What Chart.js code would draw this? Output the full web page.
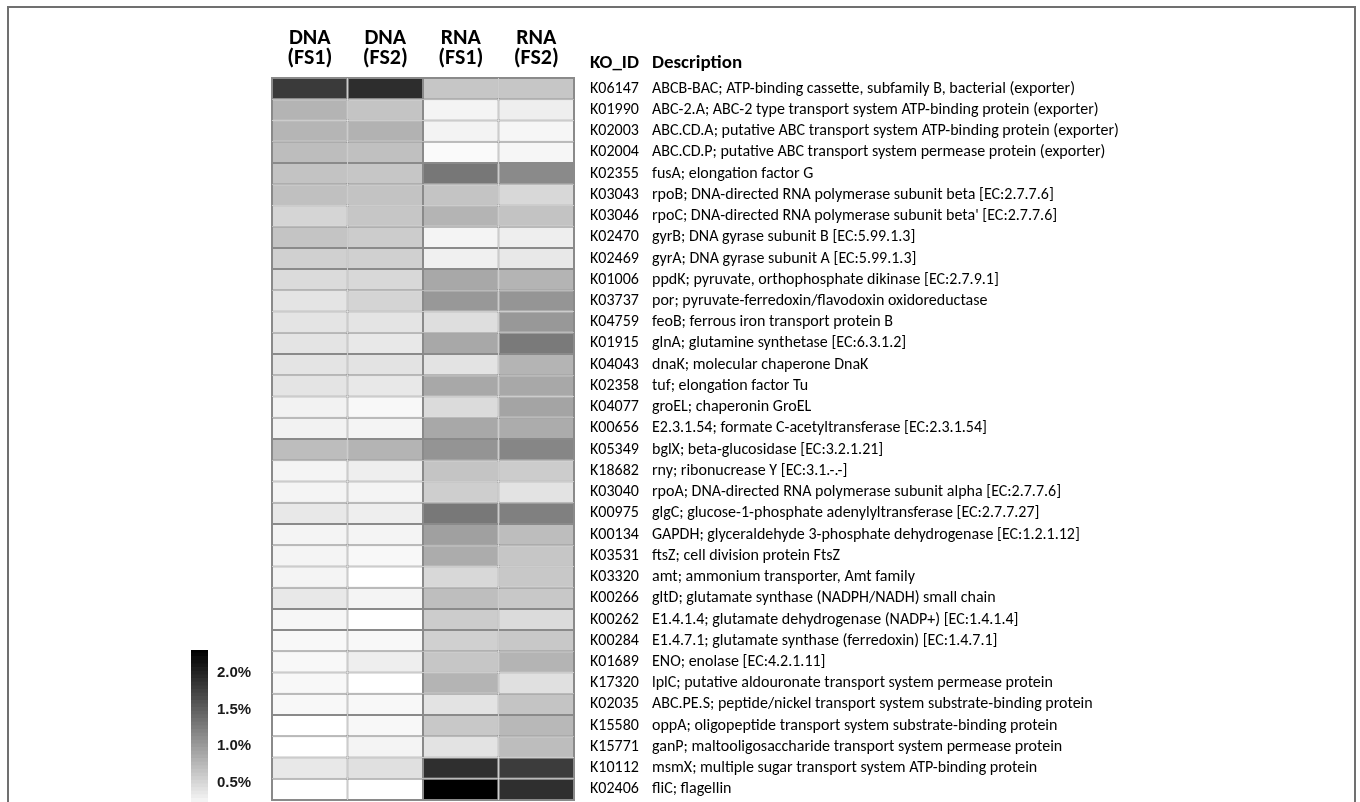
<!DOCTYPE html>
<html>
<head>
<meta charset="utf-8">
<script src="https://cdn.jsdelivr.net/npm/chart.js@4/dist/chart.umd.min.js"></script>
<style>
  html, body { margin: 0; padding: 0; background: #fff; }
  #stage { position: relative; width: 1360px; height: 802px; overflow: hidden; background: #fff; }
  #frame { position: absolute; left: 7px; top: 6px; width: 1349px; height: 830px;
           box-sizing: border-box; border: 2px solid #707070; }
  #heat { position: absolute; left: 0; top: 0; }
  #scalebar { position: absolute; left: 180px; top: 640px; }
</style>
</head>
<body>
<div id="stage">
  <div id="frame"></div>
  <canvas id="heat" width="1360" height="802"></canvas>
  <canvas id="scalebar" width="90" height="162"></canvas>
</div>
<script>
// Sample columns shown across the top of the heat map
const columnLabels = [['DNA', '(FS1)'], ['DNA', '(FS2)'], ['RNA', '(FS1)'], ['RNA', '(FS2)']];

// KEGG orthology rows, top to bottom
const koIds = [
  'K06147', 'K01990', 'K02003', 'K02004', 'K02355', 'K03043', 'K03046', 'K02470', 'K02469',
  'K01006', 'K03737', 'K04759', 'K01915', 'K04043', 'K02358', 'K04077', 'K00656', 'K05349',
  'K18682', 'K03040', 'K00975', 'K00134', 'K03531', 'K03320', 'K00266', 'K00262', 'K00284',
  'K01689', 'K17320', 'K02035', 'K15580', 'K15771', 'K10112', 'K02406'
];

const descriptions = [
  'ABCB-BAC; ATP-binding cassette, subfamily B, bacterial (exporter)',
  'ABC-2.A; ABC-2 type transport system ATP-binding protein (exporter)',
  'ABC.CD.A; putative ABC transport system ATP-binding protein (exporter)',
  'ABC.CD.P; putative ABC transport system permease protein (exporter)',
  'fusA; elongation factor G',
  'rpoB; DNA-directed RNA polymerase subunit beta [EC:2.7.7.6]',
  "rpoC; DNA-directed RNA polymerase subunit beta' [EC:2.7.7.6]",
  'gyrB; DNA gyrase subunit B [EC:5.99.1.3]',
  'gyrA; DNA gyrase subunit A [EC:5.99.1.3]',
  'ppdK; pyruvate, orthophosphate dikinase [EC:2.7.9.1]',
  'por; pyruvate-ferredoxin/flavodoxin oxidoreductase',
  'feoB; ferrous iron transport protein B',
  'glnA; glutamine synthetase [EC:6.3.1.2]',
  'dnaK; molecular chaperone DnaK',
  'tuf; elongation factor Tu',
  'groEL; chaperonin GroEL',
  'E2.3.1.54; formate C-acetyltransferase [EC:2.3.1.54]',
  'bglX; beta-glucosidase [EC:3.2.1.21]',
  'rny; ribonucrease Y [EC:3.1.-.-]',
  'rpoA; DNA-directed RNA polymerase subunit alpha [EC:2.7.7.6]',
  'glgC; glucose-1-phosphate adenylyltransferase [EC:2.7.7.27]',
  'GAPDH; glyceraldehyde 3-phosphate dehydrogenase [EC:1.2.1.12]',
  'ftsZ; cell division protein FtsZ',
  'amt; ammonium transporter, Amt family',
  'gltD; glutamate synthase (NADPH/NADH) small chain',
  'E1.4.1.4; glutamate dehydrogenase (NADP+) [EC:1.4.1.4]',
  'E1.4.7.1; glutamate synthase (ferredoxin) [EC:1.4.7.1]',
  'ENO; enolase [EC:4.2.1.11]',
  'lplC; putative aldouronate transport system permease protein',
  'ABC.PE.S; peptide/nickel transport system substrate-binding protein',
  'oppA; oligopeptide transport system substrate-binding protein',
  'ganP; maltooligosaccharide transport system permease protein',
  'msmX; multiple sugar transport system ATP-binding protein',
  'fliC; flagellin'
];

// Relative abundance (%) per sample, same row order as koIds
const dnaFs1 = [1.81, 0.78, 0.77, 0.71, 0.66, 0.68, 0.50, 0.65, 0.55, 0.45, 0.38, 0.38, 0.38, 0.38, 0.38, 0.26, 0.26,
                0.71, 0.24, 0.24, 0.34, 0.24, 0.24, 0.24, 0.34, 0.23, 0.21, 0.21, 0.21, 0.21, 0.15, 0.15, 0.34, 0.15];
const dnaFs2 = [1.92, 0.65, 0.80, 0.68, 0.63, 0.66, 0.63, 0.58, 0.55, 0.48, 0.51, 0.38, 0.34, 0.39, 0.34, 0.21, 0.24,
                0.78, 0.29, 0.24, 0.29, 0.24, 0.21, 0.15, 0.24, 0.15, 0.21, 0.29, 0.15, 0.21, 0.21, 0.24, 0.41, 0.15];
const rnaFs1 = [0.63, 0.24, 0.25, 0.19, 1.30, 0.65, 0.78, 0.24, 0.28, 0.88, 1.02, 0.43, 0.88, 0.39, 0.88, 0.45, 0.88,
                1.05, 0.65, 0.56, 1.29, 0.95, 0.85, 0.48, 0.70, 0.58, 0.55, 0.63, 0.78, 0.39, 0.61, 0.39, 1.90, 2.30];
const rnaFs2 = [0.63, 0.29, 0.23, 0.23, 1.14, 0.48, 0.66, 0.29, 0.34, 0.78, 1.04, 1.02, 1.27, 0.78, 0.88, 0.92, 0.85,
                1.17, 0.58, 0.39, 1.22, 0.71, 0.63, 0.61, 0.61, 0.45, 0.61, 0.78, 0.41, 0.65, 0.75, 0.71, 1.79, 1.90];

// Tick labels of the colour key
const keyTicks = [0.5, 1.0, 1.5, 2.0];

const sampleSeries = [dnaFs1, dnaFs2, rnaFs1, rnaFs2];

// Grey ramp: white at the low end, black at the high end
const SHADE_LOW = 0.15, SHADE_HIGH = 2.3;
function shade(v) {
  let t = (v - SHADE_LOW) / (SHADE_HIGH - SHADE_LOW);
  t = Math.max(0, Math.min(1, t));
  const g = Math.round(255 * (1 - t));
  return `rgb(${g},${g},${g})`;
}

const TEXT_FONT = 'Carlito, Calibri, Lato, "Open Sans", sans-serif';

// Fix a side axis to a given width and keep its labels from padding the plot area
function fixedWidth(w) {
  return s => { s.width = w; s.paddingTop = 0; s.paddingBottom = 0; };
}

// Outline round the whole grid and the two header words over the label columns
const gridDecor = {
  id: 'gridDecor',
  afterDatasetsDraw(chart) {
    const { ctx, chartArea: a } = chart;
    ctx.save();
    ctx.strokeStyle = '#8a8a8a';
    ctx.lineWidth = 1;
    ctx.strokeRect(a.left - 0.5, a.top - 0.5, a.right - a.left + 1, a.bottom - a.top + 1);
    ctx.restore();
  },
  afterDraw(chart) {
    const { ctx } = chart;
    const idScale = chart.scales.y, descScale = chart.scales.yDesc;
    ctx.save();
    ctx.fillStyle = '#000';
    ctx.font = `bold 19px ${TEXT_FONT}`;
    ctx.textBaseline = 'alphabetic';
    ctx.textAlign = 'left';
    ctx.fillText('KO_ID', idScale.left + idScale.options.ticks.padding, 68);
    ctx.fillText('Description', descScale.left + descScale.options.ticks.padding, 68);
    ctx.restore();
  }
};

const heatDatasets = sampleSeries.map((series, c) => ({
  label: columnLabels[c].join(' '),
  data: series.map(() => [c, c + 1]),
  backgroundColor: series.map(shade),
  borderColor: '#8a8a8a',
  borderWidth: 1,
  borderSkipped: false,
  inflateAmount: 0,
  grouped: false,
  barPercentage: 1,
  categoryPercentage: 1
}));

new Chart(document.getElementById('heat'), {
  type: 'bar',
  data: { labels: koIds, datasets: heatDatasets },
  options: {
    indexAxis: 'y',
    responsive: false,
    animation: false,
    events: [],
    layout: { padding: { left: 272, right: 20, top: 0, bottom: 2 } },
    plugins: { legend: { display: false }, tooltip: { enabled: false } },
    scales: {
      x: { type: 'linear', min: 0, max: 4, display: false },
      xHead: {
        type: 'category',
        position: 'top',
        labels: columnLabels,
        offset: true,
        grid: { display: false, drawTicks: false },
        border: { display: false },
        ticks: {
          color: '#000',
          padding: 9,
          maxRotation: 0,
          autoSkip: false,
          font: { family: TEXT_FONT, size: 22, weight: 'bold', lineHeight: 0.93 }
        },
        afterFit(s) { s.height = 78; s.paddingLeft = 0; s.paddingRight = 0; }
      },
      y: {
        type: 'category',
        position: 'right',
        weight: 0,
        offset: true,
        grid: { display: false, drawTicks: false },
        border: { display: false },
        ticks: {
          color: '#000',
          padding: 16,
          autoSkip: false,
          font: { family: TEXT_FONT, size: 16 }
        },
        afterFit: fixedWidth(66)
      },
      yDesc: {
        type: 'category',
        position: 'right',
        weight: 1,
        labels: descriptions,
        offset: true,
        grid: { display: false, drawTicks: false },
        border: { display: false },
        ticks: {
          color: '#000',
          padding: 12,
          autoSkip: false,
          font: { family: TEXT_FONT, size: 16 }
        },
        afterFit: fixedWidth(700)
      }
    }
  },
  plugins: [gridDecor]
});

// Colour key: a stepped grey ramp on its own value axis
const KEY_MIN = 0.23, KEY_MAX = 2.32, KEY_STEP = 0.05;
const keyBands = [];
for (let lo = KEY_MIN; lo < KEY_MAX - 1e-9; lo += KEY_STEP) {
  const hi = Math.min(KEY_MAX, lo + KEY_STEP);
  keyBands.push({
    data: [[lo, hi]],
    backgroundColor: shade((lo + hi) / 2),
    borderWidth: 0,
    inflateAmount: 0.4,
    grouped: false,
    barPercentage: 1,
    categoryPercentage: 1
  });
}

new Chart(document.getElementById('scalebar'), {
  type: 'bar',
  data: { labels: [''], datasets: keyBands },
  options: {
    responsive: false,
    animation: false,
    events: [],
    layout: { padding: { left: 11, right: 0, top: 10, bottom: 0 } },
    plugins: { legend: { display: false }, tooltip: { enabled: false } },
    scales: {
      x: { display: false },
      y: {
        type: 'linear',
        position: 'right',
        min: KEY_MIN,
        max: KEY_MAX,
        grid: { display: false, drawTicks: false },
        border: { display: false },
        afterBuildTicks(s) { s.ticks = keyTicks.map(v => ({ value: v })); },
        ticks: {
          color: '#1a1a1a',
          padding: 9,
          callback: v => v.toFixed(1) + '%',
          font: { family: '"Liberation Sans", Arial, sans-serif', size: 15, weight: 'bold' }
        },
        afterFit: fixedWidth(62)
      }
    }
  }
});
</script>
</body>
</html>
